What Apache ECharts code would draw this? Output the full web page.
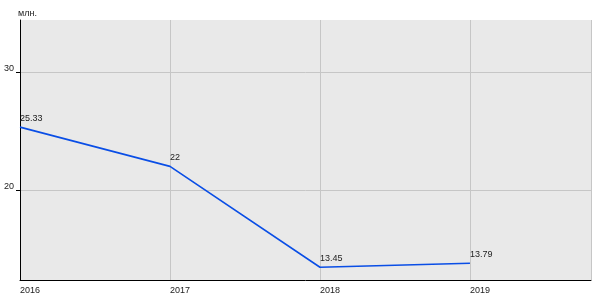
<!DOCTYPE html>
<html><head><meta charset="utf-8">
<script src="https://cdn.jsdelivr.net/npm/echarts@6/dist/echarts.min.js"></script>
<style>html,body{margin:0;padding:0;background:#fff}#c{width:600px;height:300px}</style>
</head><body><div id="c"></div>
<script>
const years = [2016, 2017, 2018, 2019];
const values = [25.33, 22, 13.45, 13.79];
const yTicks = [20, 30];
const unitLabel = 'млн.';

const chart = echarts.init(document.getElementById('c'), null, {renderer: 'canvas'});
chart.setOption({
  animation: false,
  grid: {left: 20, right: 9, top: 20, bottom: 20, show: true, backgroundColor: '#e9e9e9', borderWidth: 0},
  xAxis: {
    type: 'value', min: 2016, max: 2019.807, interval: 1,
    axisLine: {show: true, onZero: false, lineStyle: {color: '#000', width: 1}},
    axisTick: {show: false},
    splitLine: {show: true, lineStyle: {color: '#c6c6c6', width: 1}},
    axisLabel: {
      fontFamily: 'Liberation Sans, Arial', fontSize: 9, color: '#222', align: 'left', margin: 6,
      showMaxLabel: false,
      formatter: v => years.includes(v) ? String(v) : ''
    }
  },
  yAxis: {
    type: 'value', min: 12.37, max: 34.41,
    name: unitLabel, nameLocation: 'end', nameGap: 2,
    nameTextStyle: {fontFamily: 'Liberation Sans, Arial', fontSize: 9, color: '#222', align: 'left', padding: [0, 0, 0, -2]},
    axisLine: {show: true, lineStyle: {color: '#000', width: 1}},
    axisTick: {show: true, length: 4, lineStyle: {color: '#000'}, customValues: yTicks},
    splitLine: {show: true, lineStyle: {color: '#c6c6c6', width: 1}},
    axisLabel: {
      fontFamily: 'Liberation Sans, Arial', fontSize: 9, color: '#222', margin: 6,
      customValues: yTicks, verticalAlign: 'bottom', padding: [0, 0, -1, 0],
      formatter: v => yTicks.includes(v) ? String(v) : ''
    }
  },
  series: [{
    type: 'line',
    data: years.map((y, i) => [y, values[i]]),
    symbol: 'circle', symbolSize: 1, showSymbol: true, showAllSymbol: true,
    itemStyle: {color: 'rgba(0,0,0,0)', borderWidth: 0},
    lineStyle: {color: '#0a4ee6', width: 1.6},
    label: {
      show: true, position: 'top', align: 'left', distance: 4,
      fontFamily: 'Liberation Sans, Arial', fontSize: 9, color: '#222',
      formatter: p => String(p.value[1])
    }
  }]
});
</script></body></html>
